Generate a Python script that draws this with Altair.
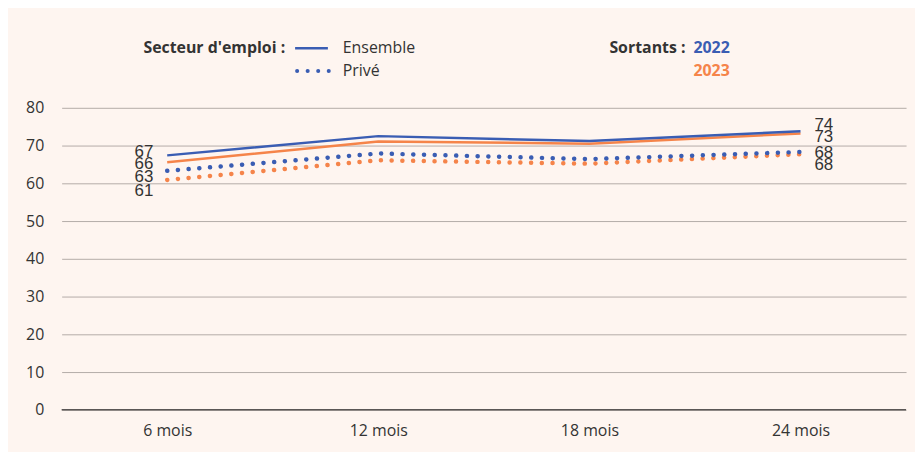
import altair as alt
import pandas as pd

mois = ["6 mois", "12 mois", "18 mois", "24 mois"]
ensemble_2022 = [67.4, 72.5, 71.2, 73.8]
ensemble_2023 = [65.6, 71.1, 70.5, 73.2]
prive_2022 = [63.3, 67.9, 66.4, 68.3]
prive_2023 = [60.9, 66.1, 65.2, 67.7]
y_ticks = [0, 10, 20, 30, 40, 50, 60, 70, 80]

BLUE = "#3a5db3"
ORANGE = "#f5844a"
BG = "#fef5f0"

series = [
    ("Privé", "2023", prive_2023),
    ("Ensemble", "2023", ensemble_2023),
    ("Privé", "2022", prive_2022),
    ("Ensemble", "2022", ensemble_2022),
]
# label vertical offsets (style only) for first / last point
dy_first = {("Ensemble", "2022"): -3, ("Ensemble", "2023"): 2, ("Privé", "2022"): 6, ("Privé", "2023"): 11}
dy_last = {("Ensemble", "2022"): -6, ("Ensemble", "2023"): 4, ("Privé", "2022"): 1, ("Privé", "2023"): 11}

x_axis = alt.Axis(title=None, ticks=False, domain=False, labelAngle=0,
                  labelPadding=13, labelFontSize=16, labelColor="#333333",
                  labelFont="Open Sans")
x_scale = alt.Scale(domain=mois, paddingInner=0, paddingOuter=0)
x_enc = alt.X("mois:N", sort=mois, scale=x_scale, axis=x_axis)
y_scale = alt.Scale(domain=[0, 80], nice=False)
y_axis = alt.Axis(title=None, values=y_ticks, ticks=False, domain=False,
                  grid=True, gridColor="#b3aba7", gridWidth=1, labelPadding=18,
                  labelOverlap=False, labelFontSize=16, labelColor="#333333",
                  labelFont="Open Sans")
y_enc = alt.Y("value:Q", scale=y_scale, axis=y_axis)

layers = []

base_axis = alt.Chart(pd.DataFrame({"mois": mois, "value": [0] * 4})).mark_point(opacity=0).encode(
    x=x_enc, y=y_enc)
layers.append(base_axis)

zero = alt.Chart(pd.DataFrame({"value": [0]})).mark_rule(color="#5a5655", strokeWidth=1.5).encode(
    y=y_enc, x=alt.value(0), x2=alt.value(850))
layers.append(zero)

for sect, an, vals in series:
    df = pd.DataFrame({"mois": mois, "value": vals})
    col = BLUE if an == "2022" else ORANGE
    if sect == "Ensemble":
        m = alt.Chart(df).mark_line(color=col, strokeWidth=2.5)
    else:
        m = alt.Chart(df).mark_line(color=col, strokeWidth=4.5, strokeCap="round",
                                    strokeDash=[0.1, 10.7])
    layers.append(m.encode(x=x_enc, y=y_enc))

for sect, an, vals in series:
    first = pd.DataFrame({"mois": [mois[0]], "value": [vals[0]], "lab": [str(round(vals[0]))]})
    last = pd.DataFrame({"mois": [mois[-1]], "value": [vals[-1]], "lab": [str(round(vals[-1]))]})
    layers.append(alt.Chart(first).mark_text(align="right", baseline="middle", dx=-14,
                                             dy=dy_first[(sect, an)], fontSize=17,
                                             font="Liberation Sans", color="#333333").encode(
        x=x_enc, y=y_enc, text="lab:N"))
    layers.append(alt.Chart(last).mark_text(align="left", baseline="middle", dx=14,
                                            dy=dy_last[(sect, an)], fontSize=17,
                                            font="Liberation Sans", color="#333333").encode(
        x=x_enc, y=y_enc, text="lab:N"))

# custom legend
one = pd.DataFrame({"a": [0]})
def txt(s, x, y, align="left", bold=False, color="#333333"):
    return alt.Chart(one).mark_text(text=s, align=align, baseline="middle", fontSize=16,
                                    font="Open Sans", fontWeight="bold" if bold else "normal",
                                    color=color).encode(x=alt.value(x), y=alt.value(y))

layers.append(txt("Secteur d'emploi :", 225, -60, align="right", bold=True))
layers.append(alt.Chart(one).mark_rule(color=BLUE, strokeWidth=2.5).encode(
    x=alt.value(235), x2=alt.value(268), y=alt.value(-60)))
layers.append(alt.Chart(one).mark_rule(color=BLUE, strokeWidth=4, strokeCap="round",
                                       strokeDash=[0.1, 10.5]).encode(
    x=alt.value(237), x2=alt.value(270), y=alt.value(-37)))
layers.append(txt("Ensemble", 283, -60))
layers.append(txt("Privé", 283, -37))
layers.append(txt("Sortants :", 628, -60, align="right", bold=True))
layers.append(txt("2022", 636, -60, bold=True, color=BLUE))
layers.append(txt("2023", 636, -37, bold=True, color=ORANGE))

chart = alt.layer(*layers).properties(
    width=850, height=304,
    autosize=alt.AutoSizeParams(type="none"),
    padding={"left": 54, "top": 99, "right": 9, "bottom": 41},
    background=BG,
).configure_view(stroke=None)

chart.save("out.html", embed_options={"renderer": "svg", "actions": False})
